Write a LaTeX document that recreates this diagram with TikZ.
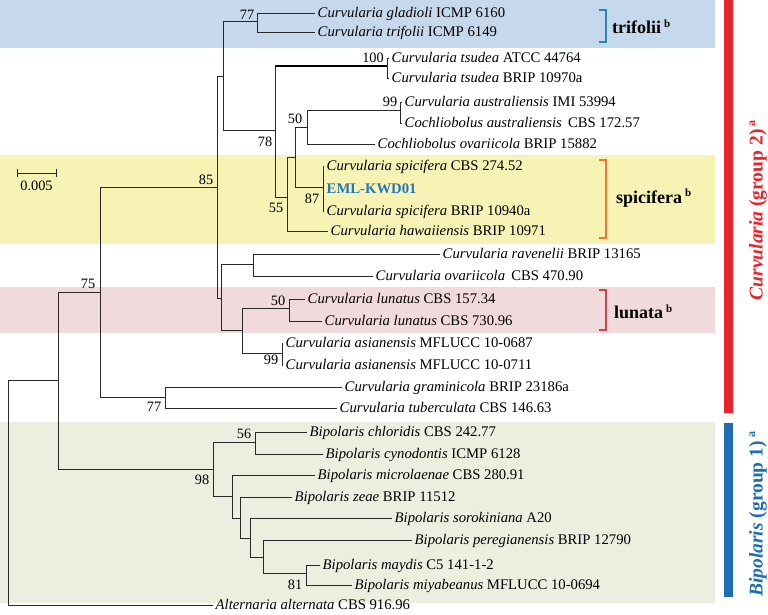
\documentclass[tikz,border=0pt]{standalone}
\usepackage{fontspec}
\usetikzlibrary{calc}
\setmainfont{Liberation Serif}
\definecolor{bandblue}{RGB}{198,217,236}
\definecolor{bandyellow}{RGB}{246,243,181}
\definecolor{bandpink}{RGB}{241,218,219}
\definecolor{bandgreen}{RGB}{236,238,223}
\definecolor{cteal}{RGB}{42,137,168}
\definecolor{corange}{RGB}{236,120,48}
\definecolor{clunata}{RGB}{200,72,72}
\definecolor{cred}{RGB}{232,36,42}
\definecolor{cblue}{RGB}{30,108,178}
\definecolor{cemlblue}{RGB}{38,118,186}
\definecolor{branchcol}{RGB}{40,40,40}
\begin{document}
\begin{tikzpicture}[x=1pt,y=-1pt,
  branch/.style={draw=branchcol, line width=0.9pt},
  thickbranch/.style={draw=black, line width=2.6pt},
  leaf/.style={anchor=west, inner xsep=2.5pt, inner ysep=0pt, text height=10pt, text depth=0.5pt, font=\fontsize{14.7}{16}\selectfont},
  bs/.style={inner sep=0pt, font=\fontsize{14.3}{16}\selectfont},
  brk/.style={line width=2.8pt},
  clade/.style={anchor=west, inner sep=0pt, font=\bfseries\fontsize{18}{20}\selectfont},
  grp/.style={rotate=90, inner sep=0pt, font=\bfseries\fontsize{19.5}{22}\selectfont}
]
\useasboundingbox (0,0) rectangle (768,614);
% background bands
\fill[bandblue] (0,0) rectangle (715,48);
\fill[bandyellow] (0,155) rectangle (715,244);
\fill[bandpink] (0,287) rectangle (715,333);
\fill[bandgreen] (0,422) rectangle (715,603);
% group bars
\fill[cred] (724,0) rectangle (733,413);
\fill[cblue] (724,423) rectangle (733,597);
% internal nodes
\coordinate (R) at (8,380);
\coordinate (n58) at (58,380);
\coordinate (n100) at (100,292);
\coordinate (n213) at (213,469);
\coordinate (n165) at (165,397);
\coordinate (n217) at (217,187);
\coordinate (n223) at (223,76);
\coordinate (n221) at (221,298);
\coordinate (n257) at (257,21);
\coordinate (n275) at (275,130);
\coordinate (n387) at (387,66);
\coordinate (n287) at (287,197);
\coordinate (n295) at (295,157);
\coordinate (n307) at (307,127);
\coordinate (n400) at (400,110);
\coordinate (n323) at (323,187);
\coordinate (n253) at (253,264);
\coordinate (n242) at (242,330);
\coordinate (n289) at (289,308);
\coordinate (n282) at (282,353);
\coordinate (n255) at (255,442);
\coordinate (n232) at (232,496);
\coordinate (n240) at (240,518);
\coordinate (n250) at (250,538);
\coordinate (n263) at (263,557);
\coordinate (n306) at (306,573);
% leaves
\node[leaf] (L1) at (315,13) {\textit{Curvularia gladioli} ICMP 6160};
\node[leaf] (L2) at (315,32) {\textit{Curvularia trifolii} ICMP 6149};
\node[leaf] (L3) at (389,58) {\textit{Curvularia tsudea} ATCC 44764};
\node[leaf] (L4) at (389,78) {\textit{Curvularia tsudea} BRIP 10970a};
\node[leaf] (L5) at (402,102) {\textit{Curvularia australiensis} IMI 53994};
\node[leaf] (L6) at (402,123) {\textit{Cochliobolus australiensis}\, CBS 172.57};
\node[leaf] (L7) at (375,144) {\textit{Cochliobolus ovariicola} BRIP 15882};
\node[leaf] (L8) at (324,166) {\textit{Curvularia spicifera} CBS 274.52};
\node[leaf,font=\bfseries\fontsize{14.7}{16}\selectfont,text=cemlblue] (L9) at (324,189) {EML-KWD01};
\node[leaf] (L10) at (324,211) {\textit{Curvularia spicifera} BRIP 10940a};
\node[leaf] (L11) at (328,231) {\textit{Curvularia hawaiiensis} BRIP 10971};
\node[leaf] (L12) at (440,254) {\textit{Curvularia ravenelii} BRIP 13165};
\node[leaf] (L13) at (373,276) {\textit{Curvularia ovariicola}\, CBS 470.90};
\node[leaf] (L14) at (305,299) {\textit{Curvularia lunatus} CBS 157.34};
\node[leaf] (L15) at (322,321) {\textit{Curvularia lunatus} CBS 730.96};
\node[leaf] (L16) at (283,343) {\textit{Curvularia asianensis} MFLUCC 10-0687};
\node[leaf] (L17) at (283,365) {\textit{Curvularia asianensis} MFLUCC 10-0711};
\node[leaf] (L18) at (342,387) {\textit{Curvularia graminicola} BRIP 23186a};
\node[leaf] (L19) at (337,408) {\textit{Curvularia tuberculata} CBS 146.63};
\node[leaf] (L20) at (307,432) {\textit{Bipolaris chloridis} CBS 242.77};
\node[leaf] (L21) at (323,454) {\textit{Bipolaris cynodontis} ICMP 6128};
\node[leaf] (L22) at (315,475) {\textit{Bipolaris microlaenae} CBS 280.91};
\node[leaf] (L23) at (292,497) {\textit{Bipolaris zeae} BRIP 11512};
\node[leaf] (L24) at (392,518) {\textit{Bipolaris sorokiniana} A20};
\node[leaf] (L25) at (412,540) {\textit{Bipolaris peregianensis} BRIP 12790};
\node[leaf] (L26) at (320,565) {\textit{Bipolaris maydis} C5 141-1-2};
\node[leaf] (L27) at (352,585) {\textit{Bipolaris miyabeanus} MFLUCC 10-0694};
\node[leaf] (L28) at (213,605) {\textit{Alternaria alternata} CBS 916.96};
% branches
\path[branch] (R) |- (n58);
\path[branch] (R) |- (L28.west);
\path[branch] (n58) |- (n100);
\path[branch] (n58) |- (n213);
\path[branch] (n100) |- (n217);
\path[branch] (n100) |- (n165);
\path[branch] (n165) |- (L18.west);
\path[branch] (n165) |- (L19.west);
\path[branch] (n217) |- (n223);
\path[branch] (n217) |- (n221);
\path[branch] (n223) |- (n257);
\path[branch] (n223) |- (n275);
\path[branch] (n257) |- (L1.west);
\path[branch] (n257) |- (L2.west);
\path[branch] (n275) |- (n287);
\path[branch] (n275) -- (n275|-n387);
\path[thickbranch] (n275|-n387) -- (n387);
\path[branch] (n387) |- (L3.west);
\path[branch] (n387) |- (L4.west);
\path[branch] (n287) |- (n295);
\path[branch] (n287) |- (L11.west);
\path[branch] (n295) |- (n307);
\path[branch] (n295) |- (n323);
\path[branch] (n307) |- (n400);
\path[branch] (n307) |- (L7.west);
\path[branch] (n400) |- (L5.west);
\path[branch] (n400) |- (L6.west);
\path[branch] (n323) |- (L8.west);
\path[branch] (n323) |- (L9.west);
\path[branch] (n323) |- (L10.west);
\path[branch] (n221) |- (n253);
\path[branch] (n221) |- (n242);
\path[branch] (n253) |- (L12.west);
\path[branch] (n253) |- (L13.west);
\path[branch] (n242) |- (n289);
\path[branch] (n242) |- (n282);
\path[branch] (n289) |- (L14.west);
\path[branch] (n289) |- (L15.west);
\path[branch] (n282) |- (L16.west);
\path[branch] (n282) |- (L17.west);
\path[branch] (n213) |- (n255);
\path[branch] (n213) |- (n232);
\path[branch] (n255) |- (L20.west);
\path[branch] (n255) |- (L21.west);
\path[branch] (n232) |- (L22.west);
\path[branch] (n232) |- (n240);
\path[branch] (n240) |- (L23.west);
\path[branch] (n240) |- (n250);
\path[branch] (n250) |- (L24.west);
\path[branch] (n250) |- (n263);
\path[branch] (n263) |- (L25.west);
\path[branch] (n263) |- (n306);
\path[branch] (n306) |- (L26.west);
\path[branch] (n306) |- (L27.west);
% bootstrap values
\node[bs] (b1) at (247,15) {77};
\node[bs] (b2) at (373,58) {100};
\node[bs] (b3) at (390,102) {99};
\node[bs] (b4) at (295,119) {50};
\node[bs] (b5) at (265,142) {78};
\node[bs] (b6) at (206,180) {85};
\node[bs] (b7) at (312,199) {87};
\node[bs] (b8) at (276,208) {55};
\node[bs] (b9) at (88,284) {75};
\node[bs] (b10) at (278,301) {50};
\node[bs] (b11) at (271,360) {99};
\node[bs] (b12) at (154,407) {77};
\node[bs] (b13) at (244,434) {56};
\node[bs] (b14) at (202,480) {98};
\node[bs] (b15) at (295,585) {81};
% scale bar
\coordinate (s1) at (17,173);
\coordinate (s2) at (56,173);
\draw[branch] (s1) -- (s2);
\draw[branch] ($(s1)+(0,-4)$) -- ($(s1)+(0,4)$);
\draw[branch] ($(s2)+(0,-4)$) -- ($(s2)+(0,4)$);
\node[bs] (sc) at (36.5,186) {0.005};
% clade brackets
\draw[brk, cteal] (599,10) -- (606,10) -- (606,42) -- (599,42);
\node[clade] (c1) at (612,27) {trifolii\,\textsuperscript{\fontsize{11}{12}\selectfont b}};
\draw[brk, corange] (599,160) -- (606,160) -- (606,238) -- (599,238);
\node[clade] (c2) at (616,198) {spicifera\,\textsuperscript{\fontsize{11}{12}\selectfont b}};
\draw[brk, clunata] (599,290) -- (606,290) -- (606,330) -- (599,330);
\node[clade] (c3) at (614,312) {lunata\,\textsuperscript{\fontsize{11}{12}\selectfont b}};
% group labels
\node[grp, text=cred] (g2) at (758,210) {\textit{Curvularia} (group 2)\,\textsuperscript{\fontsize{12}{13}\selectfont a}};
\node[grp, text=cblue] (g1) at (758,514) {\textit{Bipolaris} (group 1)\,\textsuperscript{\fontsize{12}{13}\selectfont a}};
\end{tikzpicture}
\end{document}
